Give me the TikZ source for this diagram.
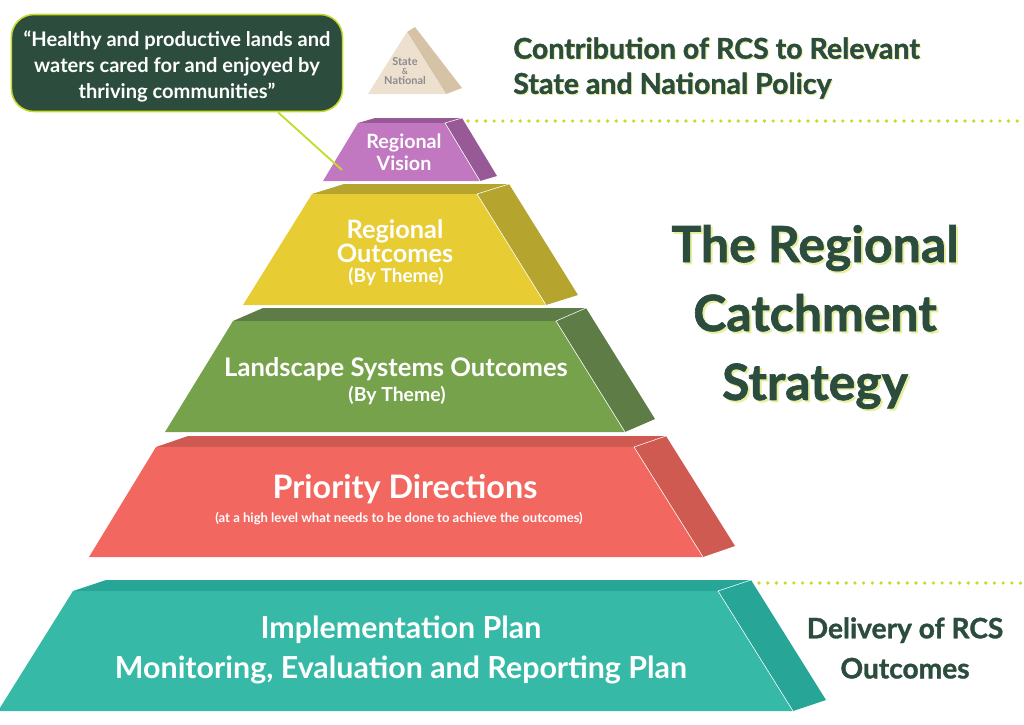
\documentclass[tikz,border=0pt]{standalone}
\usepackage{fontspec}
\setmainfont{Lato}
\newfontfamily\heavyfont{Lato}[BoldFeatures={FakeBold=1.3}]
\usetikzlibrary{positioning}
\definecolor{rcsdark}{HTML}{2C4D3E}
\definecolor{rcslime}{HTML}{C6DA2C}
\definecolor{rcsshadow}{HTML}{E6EF9E}
\definecolor{statefill}{HTML}{EDE0CF}
\definecolor{stateside}{HTML}{D6C3A6}
\definecolor{visionfill}{HTML}{C178C0}
\definecolor{visionside}{HTML}{975A97}
\definecolor{outcomefill}{HTML}{E8CC34}
\definecolor{outcomeside}{HTML}{B5A52E}
\definecolor{landfill}{HTML}{77A24C}
\definecolor{landside}{HTML}{5E7C46}
\definecolor{priorityfill}{HTML}{F2675F}
\definecolor{priorityside}{HTML}{CF5A51}
\definecolor{planfill}{HTML}{37B9A7}
\definecolor{planside}{HTML}{27A597}
\tikzset{
	layertext/.style = {text=white, align=center, inner sep=0pt},
	headtext/.style = {text=rcsdark, inner sep=0pt},
	dotline/.style = {rcslime, line width=2.6pt, line cap=round, dash pattern=on 0pt off 6.2pt},
	callout/.style = {draw=rcslime, fill=rcsdark, line width=1.1pt, rounded corners=16pt, text=white, align=center,
		minimum width=8.275cm, minimum height=2.425cm, inner sep=0pt},
}
\begin{document}
\begin{tikzpicture}[x=0.025cm, y=-0.025cm]
	\useasboundingbox (0,0) rectangle (1024,724);
	\fill [stateside] (407,32) -- (415,27) -- (462,88) -- (446,94) -- cycle;
	\fill [statefill] (368,94) -- (407,32) -- (446,94) -- cycle;
	\foreach \tl/\tr/\ty/\bl/\br/\by/\dx/\dy/\fc/\sc in {358/445/123/323/480/181/17/-5/visionfill/visionside,
		312/477/194/243/546/305/32/-10/outcomefill/outcomeside,
		233/556/321/165/625/432/30/-13/landfill/landside,
		156/634/447/89/703/557/32/-11/priorityfill/priorityside,
		73/718/591/-2/793/711/33/-11/planfill/planside} {
		\fill [\sc] (\tl,\ty) -- (\tl+\dx,\ty+\dy) -- (\tr+\dx,\ty+\dy) -- (\br+\dx,\by+\dy) -- (\br,\by) -- (\tr,\ty) -- cycle;
		\fill [\fc] (\tl,\ty) -- (\tr,\ty) -- (\br,\by) -- (\bl,\by) -- cycle;
		\draw [white, line width=.4pt] (\tr+\dx,\ty+\dy) -- (\tr,\ty) -- (\br,\by);
	}
	\coordinate (topdots) at (468,121);
	\coordinate (topdotsend) at (1024,121);
	\coordinate (lowdots) at (759,583);
	\coordinate (lowdotsend) at (1024,583);
	\draw [dotline] (topdots) -- (topdotsend);
	\draw [dotline] (lowdots) -- (lowdotsend);
	% callout
	\node [callout, font=\bfseries\fontsize{14.3}{18.8}\selectfont] (quote) at (177,63) {\rule{0pt}{16pt}“Healthy and productive lands and\\waters cared for and enjoyed by\\thriving communities”};
	\coordinate (pointerx) at (278,0);
	\coordinate (visionpt) at (342,170);
	\draw [rcslime, line width=1.3pt] (quote.south -| pointerx) -- (visionpt);
	% layer labels
	\node [layertext, text=black!45, font=\bfseries\fontsize{7.8}{6.8}\selectfont] (state) at (405,71) {State\\{\fontsize{6}{6.8}\selectfont\&}\\National};
	\node [layertext, font=\bfseries\fontsize{14}{15.6}\selectfont] (vision) at (404,152) {Regional\\Vision};
	\node [layertext, font=\bfseries\fontsize{18}{16.4}\selectfont] (outcomes) at (395,241) {Regional\\Outcomes};
	\node [layertext, font=\bfseries\fontsize{13.5}{14}\selectfont] (outcomestheme) at (396,277) {(By Theme)};
	\node [layertext, font=\bfseries\fontsize{18.2}{20}\selectfont] (landscape) at (396,369) {Landscape Systems Outcomes};
	\node [layertext, font=\bfseries\fontsize{13.8}{14}\selectfont] (landtheme) at (397,396) {(By Theme)};
	\node [layertext, font=\bfseries\fontsize{23}{26}\selectfont] (priority) at (405,489) {Priority Directions};
	\node [layertext, font=\bfseries\fontsize{9.3}{10}\selectfont] (prioritynote) at (399,519) {(at a high level what needs to be done to achieve the outcomes)};
	\node [layertext, font=\bfseries\fontsize{21.6}{28.5}\selectfont] (plan) at (401,650) {Implementation Plan\\Monitoring, Evaluation and Reporting Plan};
	% side headings
	\node [headtext, text=rcsshadow, align=left, anchor=west, font=\heavyfont\bfseries\fontsize{20.3}{25}\selectfont] (contribshadow) at (514,69) {Contribution of RCS to Relevant\\State and National Policy};
	\node [headtext, align=left, anchor=west, font=\heavyfont\bfseries\fontsize{20.3}{25}\selectfont] (contrib) at (513,68) {Contribution of RCS to Relevant\\State and National Policy};
	\node [headtext, text=rcsshadow, align=center, font=\heavyfont\bfseries\fontsize{35.5}{49}\selectfont] (titleshadow) at (817,319) {The Regional\\Catchment\\Strategy};
	\node [headtext, align=center, font=\heavyfont\bfseries\fontsize{35.5}{49}\selectfont] (title) at (815,317) {The Regional\\Catchment\\Strategy};
	\node [headtext, align=center, font=\heavyfont\bfseries\fontsize{20}{28.5}\selectfont] (delivery) at (905,648) {Delivery of RCS\\Outcomes};
\end{tikzpicture}
\end{document}
